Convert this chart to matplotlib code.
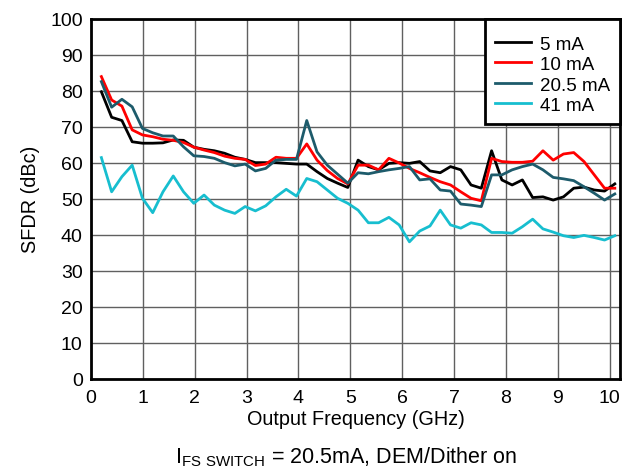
import numpy as np
import matplotlib
matplotlib.use("Agg")
import matplotlib.pyplot as plt

plt.rcParams['font.family'] = ['Liberation Sans', 'DejaVu Sans']
plt.rcParams['mathtext.fontset'] = 'custom'
plt.rcParams['mathtext.rm'] = 'Liberation Sans'

freq_ghz = np.round(np.linspace(0.2, 10.1, 51), 3)

sfdr_5ma = [79.8, 72.7, 71.8, 65.9, 65.5, 65.5, 65.6, 66.4, 66.3, 64.4,
            63.8, 63.4, 62.7, 61.6, 61.0, 60.1, 60.1, 60.1, 59.9, 59.7,
            59.7, 57.6, 55.7, 54.4, 53.2, 60.8, 59.0, 58.1, 59.9, 60.1,
            59.9, 60.4, 57.8, 57.3, 59.0, 58.1, 53.9, 53.0, 63.4, 55.3,
            53.9, 55.3, 50.4, 50.6, 49.7, 50.6, 53.0, 53.3, 52.5, 52.2,
            54.2]
sfdr_10ma = [84.0, 77.5, 75.8, 69.2, 67.8, 67.3, 66.6, 66.3, 65.7, 64.4,
             63.6, 62.9, 61.9, 61.3, 61.0, 59.3, 59.7, 61.6, 61.3, 61.3,
             65.3, 60.8, 57.9, 55.7, 54.2, 59.4, 59.4, 58.1, 61.3, 60.0,
             58.5, 57.3, 56.0, 54.8, 53.9, 52.0, 50.2, 49.5, 61.3, 60.4,
             60.2, 60.2, 60.5, 63.4, 60.8, 62.5, 62.9, 60.4, 56.7, 53.0,
             53.0]
sfdr_20p5ma = [82.6, 75.5, 77.7, 75.6, 69.6, 68.4, 67.5, 67.5, 64.5, 62.0,
               61.8, 61.3, 60.1, 59.2, 59.7, 57.8, 58.5, 60.8, 61.0, 61.0,
               71.8, 63.1, 59.4, 56.9, 54.4, 57.3, 57.0, 57.6, 58.1, 58.5,
               59.0, 55.3, 55.6, 52.5, 52.2, 48.6, 48.3, 47.9, 56.7, 56.7,
               58.1, 59.0, 59.7, 58.1, 56.0, 55.6, 55.1, 53.4, 51.6, 49.7,
               51.4]
sfdr_41ma = [61.5, 52.0, 56.2, 59.4, 50.2, 46.2, 52.0, 56.4, 52.0, 48.8,
             51.1, 48.3, 46.9, 46.0, 47.9, 46.7, 48.1, 50.6, 52.7, 50.8,
             55.7, 54.8, 52.5, 50.2, 48.8, 46.9, 43.4, 43.4, 44.9, 42.8,
             38.1, 41.1, 42.5, 46.9, 42.8, 41.9, 43.4, 42.8, 40.7, 40.7,
             40.5, 42.3, 44.4, 41.7, 40.8, 39.8, 39.3, 39.9, 39.3, 38.6,
             39.8]

series = [("5 mA", sfdr_5ma, "#000000"),
          ("10 mA", sfdr_10ma, "#ff0000"),
          ("20.5 mA", sfdr_20p5ma, "#1d5b6b"),
          ("41 mA", sfdr_41ma, "#17becf")]

x_ticks = list(range(0, 11))
y_ticks = list(range(0, 101, 10))

fig = plt.figure(figsize=(6.36, 4.69), dpi=100)
ax = fig.add_axes([91/636, 1-379/469, (620-91)/636, (379-19)/469])

for label, vals, color in series:
    ax.plot(freq_ghz, vals, color=color, lw=2.0, label=label, zorder=3)

ax.set_xlim(0, 10.2)
ax.set_ylim(0, 100)
ax.set_xticks(x_ticks)
ax.set_yticks(y_ticks)
ax.grid(True, color="#606060", lw=1.0, zorder=0)
ax.set_axisbelow(True)
ax.tick_params(length=0, labelsize=14)
ax.tick_params(axis='x', pad=8)
ax.tick_params(axis='y', pad=6)
for s in ax.spines.values():
    s.set_linewidth(2.0)
    s.set_color("black")

ax.set_xlabel("Output Frequency (GHz)", fontsize=14.3, labelpad=2)
ax.set_ylabel("SFDR (dBc)", fontsize=14.3, labelpad=7)

leg = ax.legend(loc="upper right", borderaxespad=0, fontsize=13.5,
                fancybox=False, edgecolor="black", framealpha=1,
                handlelength=1.95, handletextpad=0.5, labelspacing=0.05,
                handleheight=1.12, borderpad=0.5,
                title=" ", title_fontsize=4)
leg.get_frame().set_linewidth(2.0)
leg.set_zorder(5)

fig.text(0.545, 1-457/469, r"$\mathrm{I_{FS\ SWITCH}}$ = 20.5mA, DEM/Dither on",
         ha="center", va="center", fontsize=15.5)

fig.savefig("out.png", dpi=100)
